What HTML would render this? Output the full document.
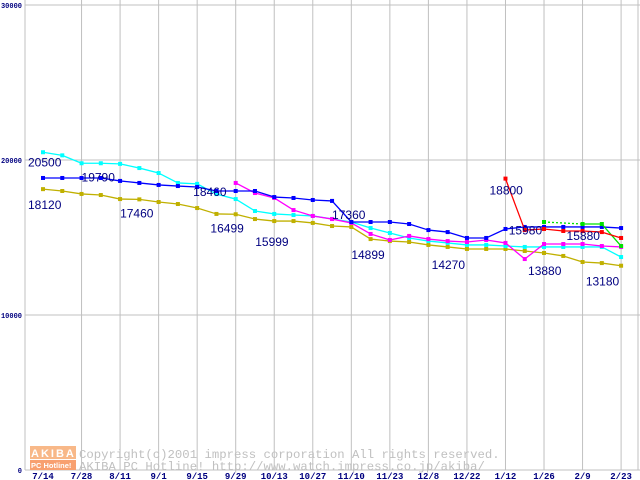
<!DOCTYPE html>
<html><head><meta charset="utf-8"><style>
body{margin:0;background:#fff;width:640px;height:480px;overflow:hidden}
svg{display:block;font-family:"Liberation Mono","DejaVu Sans Mono",monospace}
</style></head><body>
<svg id="chart" width="640" height="480" xmlns="http://www.w3.org/2000/svg">
<g id="grid"></g><g id="series"></g><g id="labels"></g>
<g>
<rect x="30" y="446" width="46" height="13" fill="#f8b888"/>
<text x="31" y="457" font-size="11" fill="#fff" font-family="Liberation Sans, sans-serif" font-weight="bold" letter-spacing="2">AKIBA</text>
<rect x="30" y="460" width="46" height="10" fill="#f8a070"/>
<text x="31" y="468" font-size="7.5" fill="#fff" font-family="Liberation Sans, sans-serif" font-weight="bold">PC Hotline!</text>
<text x="79" y="458" font-size="12.3" fill="#c0c0c0">Copyright(c)2001 impress corporation All rights reserved.</text>
<text x="79" y="470" font-size="12.3" fill="#c0c0c0">AKIBA PC Hotline!  http://www.watch.impress.co.jp/akiba/</text>
</g>
</svg>
<script>
const xLabels=["7/14","7/28","8/11","9/1","9/15","9/29","10/13","10/27","11/10","11/23","12/8","12/22","1/12","1/26","2/9","2/23"];
const yTicks=[0,10000,20000,30000];
const cyanVals=[20500,20300,19790,19790,19750,19480,19160,18520,18460,17800,17480,16710,16520,16450,16390,16200,16000,15610,15290,14970,14770,14650,14520,14520,14450,14390,14390,14390,14390,14390,13740];
const blueVals=[18840,18840,18840,18840,18650,18520,18390,18320,18260,18000,18000,18000,17610,17550,17420,17360,16000,16000,16000,15870,15480,15350,14970,14970,15550,15680,15680,15680,15680,15680,15610];
const olivVals=[18120,18000,17810,17740,17480,17460,17290,17160,16900,16520,16499,16190,16060,16060,15940,15740,15680,14899,14770,14710,14520,14390,14260,14260,14260,14130,14000,13810,13420,13350,13180];
const magVals=[null,null,null,null,null,null,null,null,null,null,18520,17870,17550,16770,16390,16190,15940,15230,14840,15100,14900,14770,14710,14840,14650,13610,14580,14580,14580,14450,14390];
const redVals=[null,null,null,null,null,null,null,null,null,null,null,null,null,null,null,null,null,null,null,null,null,null,null,null,18800,15480,15550,15420,15420,15350,14970];
const greenVals=[null,null,null,null,null,null,null,null,null,null,null,null,null,null,null,null,null,null,null,null,null,null,null,null,null,null,16000,null,15870,15870,14450];
const annotTexts=["20500","19790","18120","17460","18460","16499","15999","17360","14899","14270","18800","15980","15880","13880","13180"];
const annotIdx=[0,2,0,4,8,9,12,15,16,21,24,25,28,26,29];
const annotVals=[20500,19790,18120,17460,18460,16499,15999,17360,14899,14270,18800,15980,15880,13880,13180];
const annotDy=[14,18,20,18,12,18,24,18,20,20,16,12,16,20,20];
const annotDx=[-15,0,-15,0,-4,-6,-19,0,0,-16,-16,-16,-16,-16,-16];

const NS="http://www.w3.org/2000/svg";
const X0=43,DX=19.27,Y0=470,YS=0.0155;
const xs=i=>X0+i*DX, ys=v=>Y0-v*YS;
function mk(t,a,p){const e=document.createElementNS(NS,t);for(const k in a)e.setAttribute(k,a[k]);p.appendChild(e);return e;}
const grid=document.getElementById('grid'),ser=document.getElementById('series'),lab=document.getElementById('labels');
yTicks.forEach(v=>{
 const l=mk('line',{x1:25,x2:640,y1:ys(v),y2:ys(v),stroke:'#c0c0c0'},grid);
 
 
 const t=mk('text',{x:22,y:ys(v)+3,'font-size':7,'text-anchor':'end',fill:'#000080','font-weight':'bold'},grid);
 t.textContent=v;
 
 
});
mk('line',{x1:25,x2:25,y1:0,y2:470,stroke:'#c0c0c0'},grid);
mk('line',{x1:638,x2:638,y1:0,y2:470,stroke:'#c0c0c0'},grid);
xLabels.forEach((s,k)=>{
 const x=xs(k*2);
 if(k>0){const l=mk('line',{x1:x,x2:x,y1:0,y2:470,stroke:'#c0c0c0'},grid);
 
 }
 const t=mk('text',{x:x,y:479,'font-size':9,'text-anchor':'middle',fill:'#000080','font-weight':'bold'},grid);
 t.textContent=s;
 
 
});
function drawSeries(vals,color,name,bridgeDash){
 const g=mk('g',{},ser);
 
 
 let prev=-1;
 for(let i=0;i<vals.length;i++){
  if(vals[i]==null)continue;
  if(prev>=0){const a={x1:xs(prev),y1:ys(vals[prev]),x2:xs(i),y2:ys(vals[i]),stroke:color,'stroke-width':1.3};
   if(i-prev>1&&bridgeDash)a['stroke-dasharray']='2,2';
   mk('line',a,g);}
  prev=i;
 }
 vals.forEach((v,i)=>{if(v==null)return;
  const r=mk('rect',{x:xs(i)-2,y:ys(v)-2,width:4,height:4,fill:color},g);
  
  });
}
drawSeries(olivVals,'#c0b000','olive-series');
drawSeries(cyanVals,'#00ffff','cyan-series');
drawSeries(magVals,'#ff00ff','magenta-series');
drawSeries(blueVals,'#0000ff','blue-series');
drawSeries(greenVals,'#00e000','green-series',true);
drawSeries(redVals,'#ff0000','red-series');
annotTexts.forEach((s,k)=>{
 const t=mk('text',{x:xs(annotIdx[k])+annotDx[k],y:ys(annotVals[k])+annotDy[k],'font-size':12,fill:'#000080','font-family':'Liberation Sans, sans-serif'},lab);
 t.textContent=s;
 
 
});
</script>
</body></html>
